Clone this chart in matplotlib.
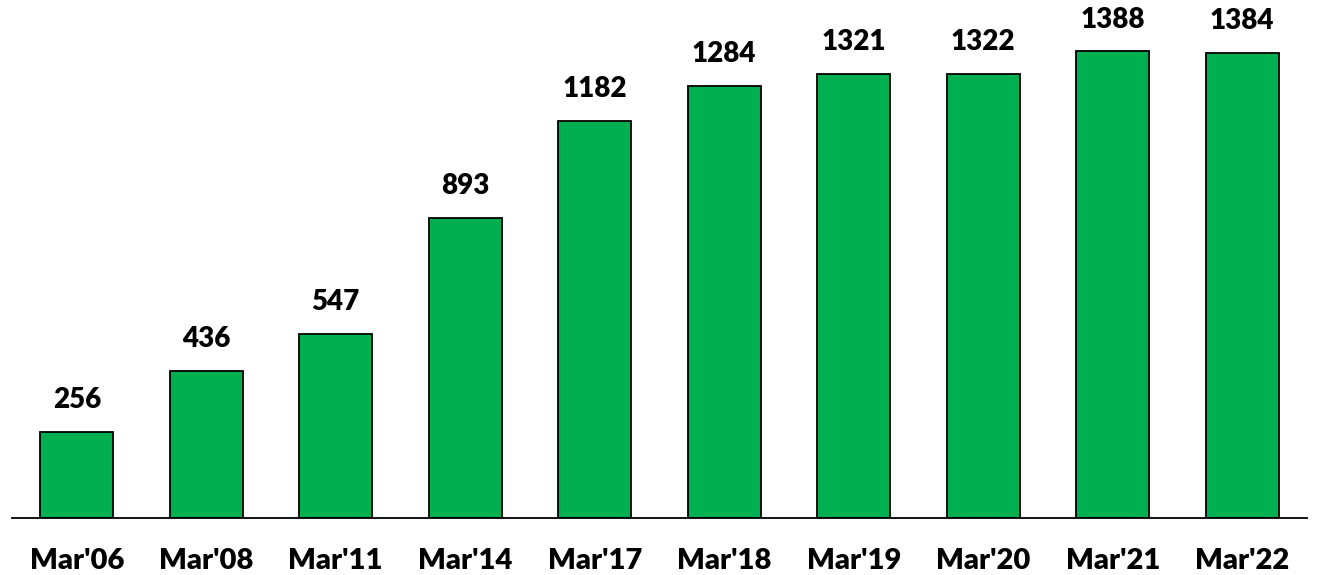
import matplotlib.pyplot as plt

# Data
periods = ["Mar'06", "Mar'08", "Mar'11", "Mar'14", "Mar'17",
           "Mar'18", "Mar'19", "Mar'20", "Mar'21", "Mar'22"]
values = [256, 436, 547, 893, 1182, 1284, 1321, 1322, 1388, 1384]

plt.rcParams['font.family'] = ['Lato', 'DejaVu Sans']

fig = plt.figure(figsize=(13.19, 5.75), dpi=100)
ax = fig.add_axes([12 / 1319, (575 - 517.7) / 575, 1295 / 1319, 517.7 / 575])

x = range(len(values))
ax.bar(x, values, width=0.56, color='#00B050', edgecolor='black', linewidth=1.3)

# Value labels above the bars
for i, v in enumerate(values):
    ax.text(i, v + 71, str(v), ha='center', va='baseline',
            fontsize=20, fontweight='heavy')

ax.set_xlim(-0.5, len(values) - 0.5)
ax.set_ylim(0, 1541)
ax.set_xticks(list(x))
ax.set_xticklabels(periods, fontsize=21, fontweight='heavy')
ax.tick_params(axis='x', length=0, pad=22)
ax.set_yticks([])

for side in ['top', 'right', 'left']:
    ax.spines[side].set_visible(False)
ax.spines['bottom'].set_linewidth(1.3)

fig.savefig('out.png', dpi=100)
